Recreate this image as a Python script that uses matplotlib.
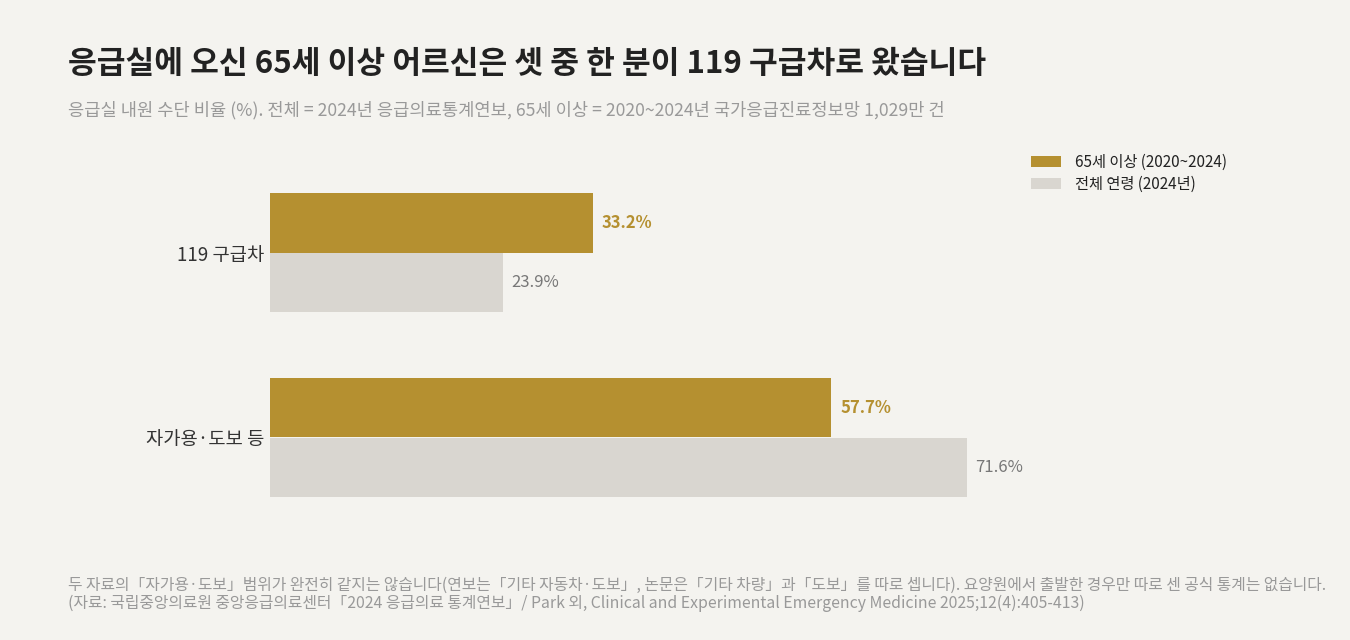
import matplotlib
matplotlib.use("Agg")
import matplotlib.pyplot as plt
from matplotlib.patches import Patch

plt.rcParams['font.family'] = ['Noto Sans CJK KR', 'DejaVu Sans']

categories = ["119 구급차", "자가용·도보 등"]
senior_vals = [33.2, 57.7]
all_vals = [23.9, 71.6]
series_names = ["65세 이상 (2020~2024)", "전체 연령 (2024년)"]

title = "응급실에 오신 65세 이상 어르신은 셋 중 한 분이 119 구급차로 왔습니다"
subtitle = "응급실 내원 수단 비율 (%). 전체 = 2024년 응급의료통계연보, 65세 이상 = 2020~2024년 국가응급진료정보망 1,029만 건"
footer1 = "두 자료의「자가용·도보」범위가 완전히 같지는 않습니다(연보는「기타 자동차·도보」, 논문은「기타 차량」과「도보」를 따로 셉니다). 요양원에서 출발한 경우만 따로 센 공식 통계는 없습니다."
footer2 = "(자료: 국립중앙의료원 중앙응급의료센터「2024 응급의료 통계연보」/ Park 외, Clinical and Experimental Emergency Medicine 2025;12(4):405-413)"

BG = "#F4F3EF"
GOLD = "#B59030"
GRAY = "#D9D6D0"

W, H = 1350, 640
fig = plt.figure(figsize=(W/100, H/100), dpi=100, facecolor=BG)
ax = fig.add_axes([270/W, 1 - 530/H, 973/W, 370/H], facecolor=BG)

bh = 0.32
ys = list(range(len(categories)))
ax.barh([y - bh/2 for y in ys], senior_vals, height=bh, color=GOLD)
ax.barh([y + bh/2 for y in ys], all_vals, height=bh, color=GRAY)
for y, v in zip(ys, senior_vals):
    ax.text(v + 0.9, y - bh/2, f"{v:.1f}%", va="center", ha="left",
            fontsize=12, fontweight="bold", color=GOLD)
for y, v in zip(ys, all_vals):
    ax.text(v + 0.9, y + bh/2, f"{v:.1f}%", va="center", ha="left",
            fontsize=12, color="#777777")

ax.set_xlim(0, 100)
ax.set_ylim(1.5, -0.5)
ax.set_yticks(ys)
ax.set_yticklabels(categories, fontsize=13.5, color="#333333")
ax.set_xticks([])
ax.tick_params(axis="y", length=0, pad=4)
for s in ax.spines.values():
    s.set_visible(False)

fig.text(68/W, 1 - 64/H, title, fontsize=22.5, fontweight="bold", color="#222222",
         va="center", ha="left")
fig.text(68/W, 1 - 110/H, subtitle, fontsize=12.7, color="#999999",
         va="center", ha="left")
fig.text(68/W, 1 - 585/H, footer1, fontsize=11.4, color="#999999",
         va="center", ha="left")
fig.text(68/W, 1 - 603/H, footer2, fontsize=11.4, color="#999999",
         va="center", ha="left")

handles = [Patch(facecolor=GOLD, edgecolor="none"), Patch(facecolor=GRAY, edgecolor="none")]
fig.legend(handles, series_names, loc="upper left", bbox_to_anchor=(1017/W, 1 - 140/H),
           frameon=False, fontsize=11.0, handlelength=2.0, handleheight=0.7,
           labelspacing=0.35, handletextpad=0.9, labelcolor="#222222")

fig.savefig("out.png", dpi=100, facecolor=BG)
